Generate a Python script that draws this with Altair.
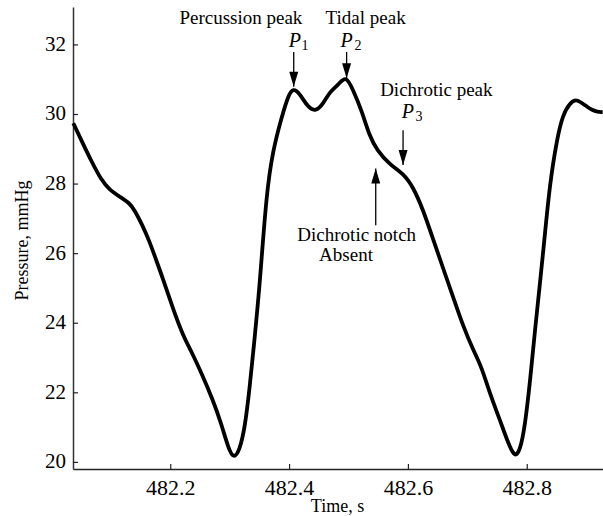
import altair as alt
import pandas as pd

# ---- data ----
time_s = [482.036, 482.052, 482.067, 482.083, 482.097, 482.114, 482.131, 482.139, 482.151, 482.165,
          482.173, 482.187, 482.204, 482.221, 482.235, 482.252, 482.271, 482.285, 482.297, 482.306,
          482.316, 482.325, 482.333, 482.342, 482.350, 482.361, 482.372, 482.387, 482.398, 482.406,
          482.417, 482.431, 482.444, 482.457, 482.468, 482.482, 482.495, 482.507, 482.521, 482.535,
          482.547, 482.569, 482.591, 482.608, 482.625, 482.642, 482.659, 482.676, 482.692, 482.709,
          482.723, 482.737, 482.754, 482.768, 482.779, 482.788, 482.796, 482.805, 482.813, 482.822,
          482.830, 482.838, 482.850, 482.860, 482.872, 482.882, 482.892, 482.901, 482.909, 482.918, 482.927]
pressure_mmHg = [29.75, 29.17, 28.64, 28.12, 27.83, 27.64, 27.45, 27.25, 26.87, 26.32,
                 25.93, 25.28, 24.40, 23.63, 23.18, 22.56, 21.79, 21.12, 20.40, 20.10,
                 20.35, 21.02, 22.17, 23.71, 25.15, 27.73, 28.98, 29.94, 30.56, 30.76,
                 30.61, 30.20, 30.08, 30.32, 30.66, 30.85, 31.13, 30.70, 30.13, 29.36,
                 28.98, 28.55, 28.31, 27.92, 27.25, 26.39, 25.55, 24.72, 23.92, 23.23,
                 22.75, 21.98, 21.22, 20.55, 20.13, 20.35, 21.02, 22.37, 23.80, 25.24,
                 26.6, 28.0, 29.3, 30.0, 30.33, 30.44, 30.33, 30.22, 30.13, 30.07, 30.07]

x_ticks = [482.2, 482.4, 482.6, 482.8]
x_tick_labels = ["482.2", "482.4", "482.6", "482.8"]
y_ticks = [20, 22, 24, 26, 28, 30, 32]
y_tick_labels = ["20", "22", "24", "26", "28", "30", "32"]

text_labels = ["Percussion peak", "Tidal peak", "Dichrotic peak", "Dichrotic notch", "Absent"]
text_t = [482.318, 482.528, 482.647, 482.513, 482.495]
text_p = [32.77, 32.77, 30.70, 26.535, 25.96]

p_letters = ["P", "P", "P"]
p_t = [482.409, 482.496, 482.599]
p_p = [32.10, 32.10, 30.07]
sub_labels = ["1", "2", "3"]
sub_t = [482.426, 482.515, 482.618]
sub_p = [31.96, 31.96, 29.93]

arrow_t = [482.407, 482.496, 482.591, 482.545]
arrow_from = [31.80, 31.80, 29.55, 26.82]
arrow_to = [30.80, 31.04, 28.55, 28.45]
arrow_dir = ["down", "down", "down", "up"]

X_DOMAIN = [482.0355, 482.9275]
Y_DOMAIN = [19.81, 33.09]
FONT = "Liberation Serif"

curve_df = pd.DataFrame({"t": time_s, "p": pressure_mmHg})
text_df = pd.DataFrame({"label": text_labels, "t": text_t, "p": text_p})
p_df = pd.DataFrame({"label": p_letters, "t": p_t, "p": p_p})
sub_df = pd.DataFrame({"label": sub_labels, "t": sub_t, "p": sub_p})
arrow_df = pd.DataFrame({"t": arrow_t, "p0": arrow_from, "p1": arrow_to, "dir": arrow_dir})
xt_df = pd.DataFrame({"t": x_ticks, "label": x_tick_labels})
yt_df = pd.DataFrame({"p": y_ticks, "label": y_tick_labels})

xscale = alt.Scale(domain=X_DOMAIN, nice=False, zero=False)
yscale = alt.Scale(domain=Y_DOMAIN, nice=False, zero=False)

x_axis = alt.Axis(values=x_ticks, labels=False, ticks=False, tickSize=0, grid=False,
                  domainColor="#222222", domainWidth=1.5,
                  title="Time, s", titleFont=FONT, titleFontSize=18, titleFontWeight="normal",
                  titleColor="black", titleX=264, titleY=37, titleAlign="center",
                  titleBaseline="middle")
y_axis = alt.Axis(values=y_ticks, labels=False, ticks=False, tickSize=0, grid=False,
                  domainColor="#333333", domainWidth=1.5,
                  title="Pressure, mmHg", titleFont=FONT, titleFontSize=18,
                  titleFontWeight="normal", titleColor="black", titleX=-51, titleY=233,
                  titleAngle=270, titleAlign="center", titleBaseline="middle")

curve = alt.Chart(curve_df).mark_line(color="black", strokeWidth=3.8, interpolate="basis").encode(
    x=alt.X("t:Q", scale=xscale, axis=x_axis),
    y=alt.Y("p:Q", scale=yscale, axis=y_axis),
)

xticks = alt.Chart(xt_df).mark_rule(color="#222222", strokeWidth=1.2).encode(
    x=alt.X("t:Q", scale=xscale), y=alt.value(462), y2=alt.value(457))
yticks = alt.Chart(yt_df).mark_rule(color="#222222", strokeWidth=1.2).encode(
    y=alt.Y("p:Q", scale=yscale), x=alt.value(0), x2=alt.value(5))

xlabels = alt.Chart(xt_df).mark_text(font=FONT, fontSize=22, color="black",
                                     align="center", baseline="top").encode(
    x=alt.X("t:Q", scale=xscale), y=alt.value(471), text="label:N")
ylabels = alt.Chart(yt_df).mark_text(font=FONT, fontSize=21, color="black",
                                     align="right", baseline="middle").encode(
    y=alt.Y("p:Q", scale=yscale), x=alt.value(-7), text="label:N")

shafts = alt.Chart(arrow_df).mark_rule(color="black", strokeWidth=1.3).encode(
    x=alt.X("t:Q", scale=xscale), y=alt.Y("p0:Q", scale=yscale), y2="p1:Q")
heads_down = alt.Chart(arrow_df).transform_filter(alt.datum.dir == "down").mark_point(
    shape="M-0.6,-2L0.6,-2L0,0Z", filled=True, size=225, color="black", opacity=1, strokeWidth=0
).encode(x=alt.X("t:Q", scale=xscale), y=alt.Y("p1:Q", scale=yscale))
heads_up = alt.Chart(arrow_df).transform_filter(alt.datum.dir == "up").mark_point(
    shape="M-0.6,2L0.6,2L0,0Z", filled=True, size=225, color="black", opacity=1, strokeWidth=0
).encode(x=alt.X("t:Q", scale=xscale), y=alt.Y("p1:Q", scale=yscale))

texts = alt.Chart(text_df).mark_text(font=FONT, fontSize=19, color="black",
                                     align="center", baseline="middle").encode(
    x=alt.X("t:Q", scale=xscale), y=alt.Y("p:Q", scale=yscale), text="label:N")
ps = alt.Chart(p_df).mark_text(font=FONT, fontSize=20, fontStyle="italic", color="black",
                               align="center", baseline="middle").encode(
    x=alt.X("t:Q", scale=xscale), y=alt.Y("p:Q", scale=yscale), text="label:N")
subs = alt.Chart(sub_df).mark_text(font=FONT, fontSize=14, color="black",
                                   align="center", baseline="middle").encode(
    x=alt.X("t:Q", scale=xscale), y=alt.Y("p:Q", scale=yscale), text="label:N")

chart = alt.layer(curve, xticks, yticks, xlabels, ylabels, shafts, heads_down, heads_up,
                  texts, ps, subs).properties(
    width=530, height=462, autosize="none",
    padding={"left": 73, "top": 7, "right": 0, "bottom": 47},
    background="white",
).configure_view(stroke=None)

chart.save("out.html", embed_options={"renderer": "svg", "actions": False})
